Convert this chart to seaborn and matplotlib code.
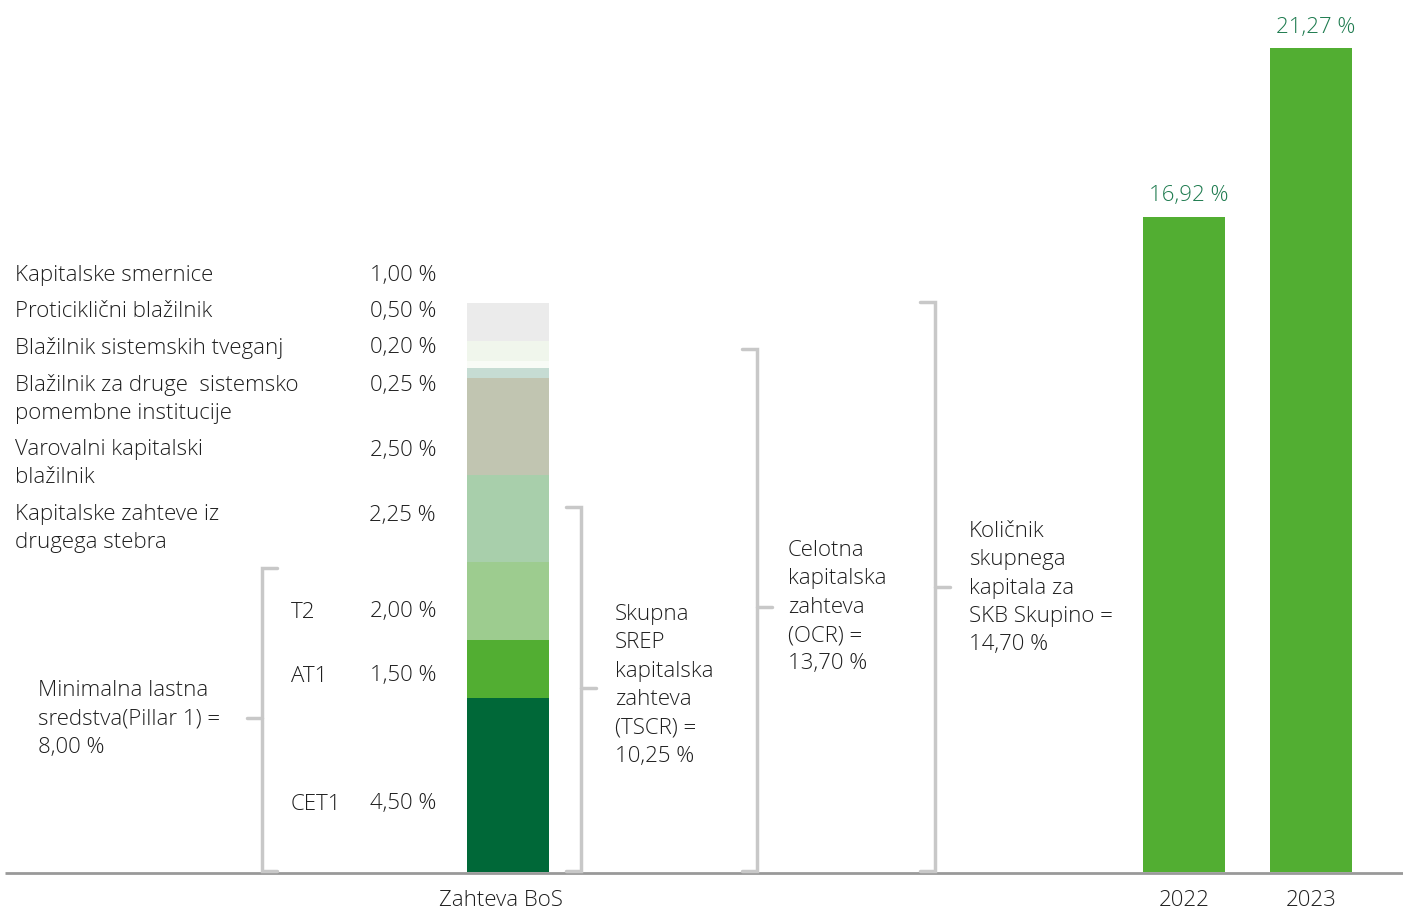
import matplotlib.pyplot as plt
import seaborn as sns

# stacked requirement components (bottom to top), in %
components = ["CET1", "AT1", "T2", "Kapitalske zahteve iz drugega stebra",
              "Varovalni kapitalski blažilnik",
              "Blažilnik za druge sistemsko pomembne institucije",
              "Blažilnik sistemskih tveganj", "Proticiklični blažilnik",
              "Kapitalske smernice"]
component_values = [4.50, 1.50, 2.00, 2.25, 2.50, 0.25, 0.20, 0.50, 1.00]
component_colors = ["#006838", "#52AE32", "#9DCC8F", "#A8CFAB", "#C1C5B1",
                    "#C6DCD3", "#F8FBF6", "#F0F6EC", "#EBEBEB"]

years = ["2022", "2023"]
year_values = [16.92, 21.27]

# left-hand labels and their value texts
upper_labels = ["Kapitalske smernice", "Proticiklični blažilnik",
                "Blažilnik sistemskih tveganj",
                "Blažilnik za druge  sistemsko\npomembne institucije",
                "Varovalni kapitalski\nblažilnik",
                "Kapitalske zahteve iz\ndrugega stebra"]
upper_values = ["1,00 %", "0,50 %", "0,20 %", "0,25 %", "2,50 %", "2,25 %"]
tier_labels = ["T2", "AT1", "CET1"]
tier_values = ["2,00 %", "1,50 %", "4,50 %"]

sns.set_theme(style="white")
plt.rcParams["font.family"] = ["Open Sans", "DejaVu Sans"]
plt.rcParams["font.weight"] = "light"

W, H = 1403, 908
BASE, SCALE = 872, 38.74  # pixel of zero line, pixels per percent


def py(y):
    return (BASE - y) / SCALE


fig = plt.figure(figsize=(W / 100, H / 100), dpi=100)
ax = fig.add_axes([0, 0, 1, 1])
ax.set_xlim(0, W)
ax.set_ylim(py(H), py(0))
ax.axis("off")

TXT = "#1E1E1E"
GREEN_TXT = "#1E7B4F"
BR = "#C8C8C8"
FS = 16
LS = 1.46
DY = 3  # vertical nudge for centred text

# stacked bar
bottom = 0
for v, c in zip(component_values, component_colors):
    ax.bar(508, v, width=82, bottom=bottom, color=c, linewidth=0)
    bottom += v

# year bars
for x, v, lab in zip([1184, 1311], year_values, years):
    ax.bar(x, v, width=82, color="#52AE32", linewidth=0)
    ax.text(x + 5, v + py(872 - 21), f"{v:.2f}".replace(".", ",") + " %",
            ha="center", va="center", color=GREEN_TXT, fontsize=FS)
    ax.text(x, py(897 + DY), lab, ha="center", va="center", color=TXT, fontsize=FS)

ax.text(501, py(897 + DY), "Zahteva BoS", ha="center", va="center",
        color=TXT, fontsize=FS)

# baseline
ax.plot([5, W], [py(873), py(873)], color="#999999", lw=2, solid_capstyle="butt")

# left labels
upper_y = [273, 309, 345, 382, 447, 512]
for t, v, y in zip(upper_labels, upper_values, upper_y):
    ax.text(15, py(y - 8), t, ha="left", va="top", color=TXT, fontsize=FS,
            linespacing=LS)
    ax.text(436, py(y + DY), v, ha="right", va="center", color=TXT, fontsize=FS)

for t, v, y in zip(tier_labels, tier_values, [609, 673, 801]):
    ax.text(291, py(y + DY), t, ha="left", va="center", color=TXT, fontsize=FS)
    ax.text(436, py(y + DY), v, ha="right", va="center", color=TXT, fontsize=FS)


def bracket(x, top, bot, side, mid, label_x, label, label_y):
    # side: +1 end ticks point right, -1 they point left
    ax.plot([x + 15 * side, x, x, x + 15 * side],
            [py(top), py(top), py(bot), py(bot)], color=BR, lw=2.5,
            solid_joinstyle="miter")
    ax.plot([x, x - 15 * side], [py(mid), py(mid)], color=BR, lw=2.5)
    ax.text(label_x, py(label_y - 8), label, ha="left", va="top", color=TXT,
            fontsize=FS, linespacing=LS)


bracket(262, 568, 871, 1, 718, 38, "Minimalna lastna\nsredstva(Pillar 1) =\n8,00 %", 688)
bracket(581, 507, 871, -1, 688, 615,
        "Skupna\nSREP\nkapitalska\nzahteva\n(TSCR) =\n10,25 %", 612)
bracket(757, 349, 871, -1, 607, 788,
        "Celotna\nkapitalska\nzahteva\n(OCR) =\n13,70 %", 548)
bracket(935, 302, 871, -1, 587, 969,
        "Količnik\nskupnega\nkapitala za\nSKB Skupino =\n14,70 %", 529)

fig.savefig("out.png", dpi=100)
